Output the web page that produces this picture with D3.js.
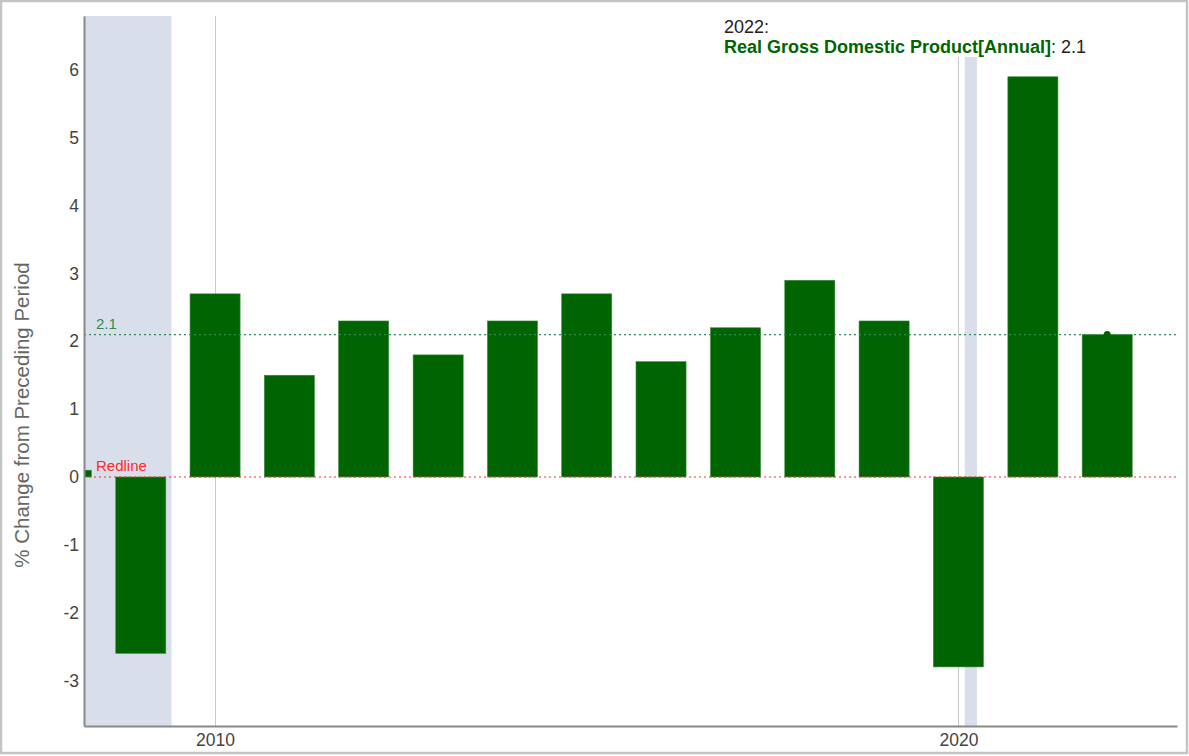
<!DOCTYPE html>
<html>
<head>
<meta charset="utf-8">
<script src="https://cdn.jsdelivr.net/npm/d3@7"></script>
<style>
  html, body { margin: 0; padding: 0; background: #fff; }
  svg { display: block; font-family: "Liberation Sans", Arial, sans-serif; }
</style>
</head>
<body>
<svg id="chart" width="1189" height="756"></svg>
<script>
// ---- data ----
const years = [2008, 2009, 2010, 2011, 2012, 2013, 2014, 2015, 2016, 2017, 2018, 2019, 2020, 2021, 2022];
const gdpValues = [0.1, -2.6, 2.7, 1.5, 2.3, 1.8, 2.3, 2.7, 1.7, 2.2, 2.9, 2.3, -2.8, 5.9, 2.1];
const recessions = [["2007-12-01", "2009-06-01"], ["2020-02-01", "2020-04-01"]];
const yTicks = [-3, -2, -1, 0, 1, 2, 3, 4, 5, 6];
const xTickYears = [2010, 2020];
const refLineValue = 2.1;
const redlineValue = 0;
const annotationYear = "2022:";
const seriesName = "Real Gross Domestic Product[Annual]";
const annotationValue = 2.1;

// ---- layout ----
const svg = d3.select("#chart");
const W = 1189, H = 756;
const plot = { left: 84, right: 1177, top: 16, bottom: 726 };

const x = d3.scaleTime()
  .domain([new Date(2008, 2, 28), new Date(2022, 11, 10)])
  .range([plot.left, plot.right]);
const y = d3.scaleLinear()
  .domain([-3.671, 6.796])
  .range([plot.bottom, plot.top]);

const data = years.map((yr, i) => ({ date: new Date(yr, 0, 1), value: gdpValues[i] }));
const barHalfDays = 123;

svg.append("defs").append("clipPath").attr("id", "clip")
  .append("rect").attr("x", plot.left).attr("y", plot.top)
  .attr("width", plot.right - plot.left).attr("height", plot.bottom - plot.top);

const g = svg.append("g").attr("clip-path", "url(#clip)");

// recession shading
g.selectAll("rect.rec").data(recessions).join("rect")
  .attr("class", "rec")
  .attr("x", d => x(new Date(d[0])))
  .attr("width", d => x(new Date(d[1])) - x(new Date(d[0])))
  .attr("y", plot.top).attr("height", plot.bottom - plot.top)
  .attr("fill", "#d9dfea");

// vertical gridlines at ticks
g.selectAll("line.vgrid").data(xTickYears).join("line")
  .attr("class", "vgrid")
  .attr("x1", d => Math.round(x(new Date(d, 0, 1))) + 0.5)
  .attr("x2", d => Math.round(x(new Date(d, 0, 1))) + 0.5)
  .attr("y1", plot.top).attr("y2", plot.bottom)
  .attr("stroke", "#c8c8c8").attr("stroke-width", 1);

// bars
g.selectAll("rect.bar").data(data).join("rect")
  .attr("class", "bar")
  .attr("x", d => x(d3.timeDay.offset(d.date, -barHalfDays)))
  .attr("width", d => x(d3.timeDay.offset(d.date, barHalfDays)) - x(d3.timeDay.offset(d.date, -barHalfDays)))
  .attr("y", d => y(Math.max(0, d.value)))
  .attr("height", d => Math.abs(y(d.value) - y(0)))
  .attr("fill", "#006400")
  .attr("stroke", "#3d8a3d").attr("stroke-width", 0.6);

// reference lines
g.append("line")
  .attr("x1", plot.left).attr("x2", plot.right)
  .attr("y1", y(refLineValue)).attr("y2", y(refLineValue))
  .attr("stroke", "#2e8b57").attr("stroke-width", 1.2).attr("stroke-dasharray", "2,3");
g.append("line")
  .attr("x1", plot.left).attr("x2", plot.right)
  .attr("y1", y(redlineValue)).attr("y2", y(redlineValue))
  .attr("stroke", "#ff2a2a").attr("stroke-width", 1.2).attr("stroke-dasharray", "2,3");

svg.append("text").attr("x", 96).attr("y", y(refLineValue) - 6)
  .attr("fill", "#2e8b57").attr("font-size", 15).text(String(refLineValue));
svg.append("text").attr("x", 96).attr("y", y(redlineValue) - 6)
  .attr("fill", "#ff2a2a").attr("font-size", 15).text("Redline");

// hover point on last bar
const last = data[data.length - 1];
svg.append("circle")
  .attr("cx", x(last.date)).attr("cy", y(last.value)).attr("r", 3.5)
  .attr("fill", "#006400");

// axes
const yAxis = d3.axisLeft(y).tickValues(yTicks).tickFormat(d => String(d)).tickSize(0).tickPadding(5);
const yg = svg.append("g").attr("transform", `translate(${plot.left},0)`).call(yAxis);
yg.select(".domain").attr("stroke", "#888").attr("stroke-width", 2);
yg.selectAll("text").attr("font-size", 17.5).attr("fill", "#444")
  .attr("font-family", "Liberation Sans, Arial, sans-serif");

const xAxis = d3.axisBottom(x).tickValues(xTickYears.map(d => new Date(d, 0, 1)))
  .tickFormat(d3.timeFormat("%Y")).tickSize(0).tickPadding(8);
const xg = svg.append("g").attr("transform", `translate(0,${plot.bottom})`).call(xAxis);
xg.select(".domain").attr("stroke", "#888").attr("stroke-width", 2);
xg.selectAll("text").attr("font-size", 17.5).attr("fill", "#444")
  .attr("font-family", "Liberation Sans, Arial, sans-serif");

// y axis title
svg.append("text")
  .attr("transform", `translate(29,${(plot.top + plot.bottom) / 2 + 44}) rotate(-90)`)
  .attr("text-anchor", "middle").attr("fill", "#666").attr("font-size", 20.5)
  .text("% Change from Preceding Period");

// annotation
const ann = svg.append("g");
ann.append("rect").attr("x", 720).attr("y", plot.top).attr("width", 380).attr("height", 41).attr("fill", "#fff");
ann.append("text").attr("x", 724).attr("y", 33).attr("font-size", 18).attr("fill", "#222").text(annotationYear);
const t2 = ann.append("text").attr("x", 724).attr("y", 53).attr("font-size", 18);
t2.append("tspan").attr("font-weight", "bold").attr("fill", "#006400").text(seriesName);
t2.append("tspan").attr("fill", "#222").text(": " + annotationValue);

// outer frame
svg.append("rect").attr("x", 1).attr("y", 1).attr("width", W - 3).attr("height", H - 4)
  .attr("fill", "none").attr("stroke", "#c4c4c4").attr("stroke-width", 2.5);
</script>
</body>
</html>
